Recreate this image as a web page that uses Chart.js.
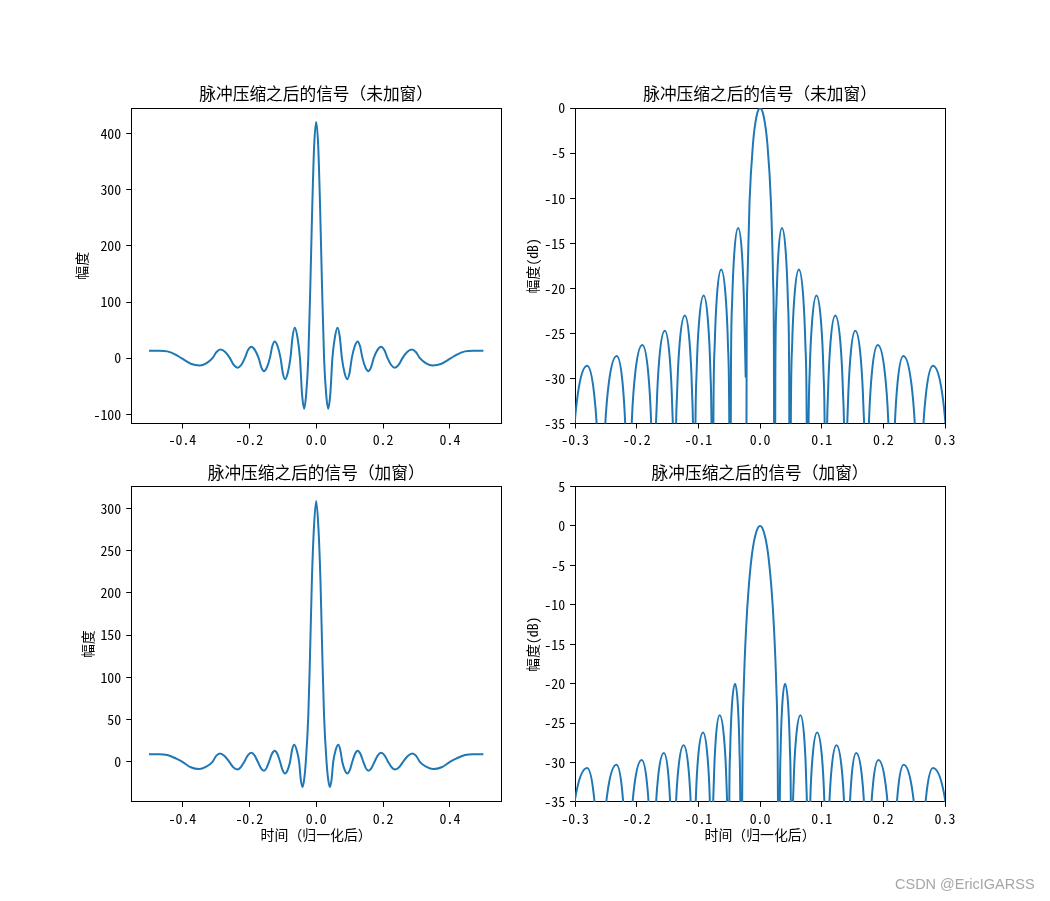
<!DOCTYPE html>
<html>
<head>
<meta charset="utf-8">
<script src="https://cdn.jsdelivr.net/npm/chart.js@4/dist/chart.umd.min.js"></script>
<style>
html, body { margin: 0; padding: 0; background: #fff; }
#wrap { position: relative; width: 1050px; height: 901px; overflow: hidden; }
#wrap canvas { position: absolute; left: 0; top: 0; }
#mark { position: absolute; left: 895px; top: 876px; font: 14.5px "Liberation Sans", Arial, sans-serif; color: #a6a6a6; white-space: nowrap; }
</style>
</head>
<body>
<div id="wrap">
  <canvas id="c1" width="1050" height="901"></canvas>
  <canvas id="c2" width="1050" height="901"></canvas>
  <canvas id="c3" width="1050" height="901"></canvas>
  <canvas id="c4" width="1050" height="901"></canvas>
  <div id="mark">CSDN @EricIGARSS</div>
</div>
<script>
// top-left: compressed pulse, no window (linear amplitude)
const timeA = [-0.5, -0.47, -0.445, -0.42, -0.403, -0.375, -0.348, -0.329, -0.31, -0.298, -0.286, -0.272, -0.258, -0.2465, -0.235, -0.2243, -0.2135,
  -0.2038, -0.194, -0.183, -0.172, -0.164, -0.156, -0.1473, -0.1385, -0.1313, -0.124, -0.1153, -0.1065, -0.0998, -0.093, -0.085, -0.077,
  -0.0705, -0.064, -0.0563, -0.0485, -0.0423, -0.036, -0.0298, -0.0236, -0.0176, -0.0118, -0.006,
  0,
  0.006, 0.0118, 0.0176, 0.0236, 0.0298, 0.036, 0.0423, 0.0485, 0.0563, 0.064, 0.0705,
  0.077, 0.085, 0.093, 0.0998, 0.1065, 0.1153, 0.124, 0.1313, 0.1385, 0.1473, 0.156, 0.164, 0.172, 0.183, 0.194, 0.2038,
  0.2135, 0.2243, 0.235, 0.2465, 0.258, 0.272, 0.286, 0.298, 0.31, 0.329, 0.348, 0.375, 0.403, 0.42, 0.445, 0.47, 0.5];
const ampA = [13, 13, 12, 6, 0, -10, -13, -9.2, 0, 11, 15.5, 11, 0, -12.2, -17.3, -12.2, 0,
  14.3, 20.2, 14.3, 0, -16.4, -23.2, -16.4, 0, 21.1, 29.8, 21.1, 0, -26.5, -37.5, -26.5, 0,
  38.2, 54, 38.2, 0, -63.6, -90, -63.6, 0, 126, 268, 379,
  421,
  379, 268, 126, 0, -63.6, -90, -63.6, 0, 38.2, 54, 38.2,
  0, -26.5, -37.5, -26.5, 0, 21.1, 29.8, 21.1, 0, -16.4, -23.2, -16.4, 0, 14.3, 20.2, 14.3,
  0, -12.2, -17.3, -12.2, 0, 11, 15.5, 11, 0, -9.2, -13, -10, 0, 6, 12, 13, 13];

// top-right: same signal in dB (null = sample at -inf)
const timeB = [-0.31, -0.3071, -0.3026, -0.2953, -0.2805, -0.2693, -0.2636, -0.2603,
  -0.258, -0.2555, -0.2516, -0.2453, -0.2325, -0.223, -0.2183, -0.2154,
  -0.2135, -0.2113, -0.2079, -0.2023, -0.191, -0.1815, -0.1768, -0.1739,
  -0.172, -0.1703, -0.1676, -0.1633, -0.1545, -0.1465, -0.1425, -0.1401,
  -0.1385, -0.1369, -0.1344, -0.1303, -0.122, -0.1143, -0.1104, -0.1081,
  -0.1065, -0.105, -0.1028, -0.099, -0.0915, -0.0843, -0.0806, -0.0785,
  -0.077, -0.0756, -0.0735, -0.07, -0.063, -0.0558, -0.0521, -0.05,
  -0.0485, -0.0472, -0.0453, -0.042, -0.0355, -0.0292, -0.026, -0.0233,
  -0.0228, -0.0223, -0.0217, -0.0205, -0.0171, -0.0114, -0.0057,
  0,
  0.0059, 0.0118, 0.0177, 0.0212, 0.0224,
  0.0236, 0.0248, 0.0266, 0.0296, 0.0355, 0.042, 0.0453, 0.0472,
  0.0485, 0.05, 0.0521, 0.0558, 0.063, 0.07, 0.0735, 0.0756,
  0.077, 0.0785, 0.0806, 0.0843, 0.0915, 0.099, 0.1028, 0.105,
  0.1065, 0.1081, 0.1104, 0.1143, 0.122, 0.1303, 0.1344, 0.1369,
  0.1385, 0.1401, 0.1425, 0.1465, 0.1545, 0.1633, 0.1676, 0.1703,
  0.172, 0.1739, 0.1768, 0.1815, 0.191, 0.2023, 0.2079, 0.2113,
  0.2135, 0.2154, 0.2183, 0.223, 0.2325, 0.2453, 0.2516, 0.2555,
  0.258, 0.2603, 0.2636, 0.2693, 0.2805, 0.2953, 0.3026, 0.3071, 0.31];
const dbA = [-60, -44.7, -36.9, -31.6, -28.6, -31.6, -36.9, -44.7,
  -60, -43.6, -35.8, -30.5, -27.5, -30.5, -35.8, -43.6,
  -60, -42.4, -34.6, -29.3, -26.3, -29.3, -34.6, -42.4,
  -60, -40.8, -33, -27.7, -24.7, -27.7, -33, -40.8,
  -60, -39.1, -31.3, -26, -23, -26, -31.3, -39.1,
  -60, -36.9, -29.1, -23.8, -20.8, -23.8, -29.1, -36.9,
  -60, -34, -26.2, -20.9, -17.9, -20.9, -26.2, -34,
  -60, -29.4, -21.6, -16.3, -13.3, -16.3, -21.6, -29.9,
  null, -45, -25.6, -19.2, -10.5, -3.9, -0.9,
  0,
  -0.9, -3.9, -10.5, -19.2, -25.6,
  -60, -29.4, -21.6, -16.3, -13.3, -16.3, -21.6, -29.4,
  -60, -34, -26.2, -20.9, -17.9, -20.9, -26.2, -34,
  -60, -36.9, -29.1, -23.8, -20.8, -23.8, -29.1, -36.9,
  -60, -39.1, -31.3, -26, -23, -26, -31.3, -39.1,
  -60, -40.8, -33, -27.7, -24.7, -27.7, -33, -40.8,
  -60, -42.4, -34.6, -29.3, -26.3, -29.3, -34.6, -42.4,
  -60, -43.6, -35.8, -30.5, -27.5, -30.5, -35.8, -43.6,
  -60, -44.7, -36.9, -31.6, -28.6, -31.6, -36.9, -44.7, -60];

// bottom-left: compressed pulse with window (linear amplitude)
const timeC = [-0.5, -0.47, -0.445, -0.42, -0.4, -0.375, -0.35, -0.33, -0.31, -0.299, -0.288, -0.274, -0.26, -0.248, -0.236, -0.2255, -0.215,
  -0.2045, -0.194, -0.1843, -0.1745, -0.1653, -0.156, -0.1485, -0.141, -0.1325, -0.124, -0.116, -0.108, -0.1005, -0.093, -0.0855, -0.078,
  -0.072, -0.066, -0.0585, -0.051, -0.046, -0.041, -0.036, -0.031, -0.0235, -0.0183, -0.0128, -0.007,
  0,
  0.007, 0.0128, 0.0183, 0.0235, 0.031, 0.036, 0.041, 0.046, 0.051, 0.0585, 0.066, 0.072,
  0.078, 0.0855, 0.093, 0.1005, 0.108, 0.116, 0.124, 0.1325, 0.141, 0.1485, 0.156, 0.1653, 0.1745, 0.1843, 0.194, 0.2045,
  0.215, 0.2255, 0.236, 0.248, 0.26, 0.274, 0.288, 0.299, 0.31, 0.33, 0.35, 0.375, 0.4, 0.42, 0.445, 0.47, 0.5];
const ampB = [9, 9, 8, 4, 0, -6.5, -8.6, -6.1, 0, 7, 9.9, 7, 0, -6.4, -9, -6.4, 0,
  7.6, 10.7, 7.6, 0, -7.5, -10.6, -7.5, 0, 9.2, 13, 9.2, 0, -9.8, -13.8, -9.8, 0,
  14.3, 20.2, 14.3, 0, -21.2, -30, -21.2, 0, 55, 128, 215, 275,
  309,
  275, 215, 128, 55, 0, -21.2, -30, -21.2, 0, 14.3, 20.2, 14.3,
  0, -9.8, -13.8, -9.8, 0, 9.2, 13, 9.2, 0, -7.5, -10.6, -7.5, 0, 7.6, 10.7, 7.6,
  0, -6.4, -9, -6.4, 0, 7, 9.9, 7, 0, -6.1, -8.6, -6.5, 0, 4, 8, 9, 9];

// bottom-right: windowed signal in dB
const timeD = [-0.315, -0.3115, -0.3064, -0.2978, -0.2805, -0.2703, -0.2651, -0.2621,
  -0.26, -0.2573, -0.2533, -0.2465, -0.233, -0.224, -0.2195, -0.2168,
  -0.215, -0.2127, -0.2093, -0.2035, -0.192, -0.1833, -0.1789, -0.1763,
  -0.1745, -0.1727, -0.1699, -0.1653, -0.156, -0.1485, -0.1448, -0.1425,
  -0.141, -0.1393, -0.1368, -0.1325, -0.124, -0.116, -0.112, -0.1096,
  -0.108, -0.1065, -0.1041, -0.1003, -0.0925, -0.0853, -0.0816, -0.0795,
  -0.078, -0.0768, -0.0749, -0.0718, -0.0655, -0.0583, -0.0546, -0.0525,
  -0.051, -0.05, -0.0484, -0.0458, -0.0405, -0.0358, -0.0334, -0.032,
  -0.031, -0.0285, -0.0264, -0.0225, -0.0183, -0.0128, -0.0065,
  0,
  0.0065, 0.0128, 0.0183, 0.0225, 0.0264, 0.0285,
  0.031, 0.032, 0.0334, 0.0358, 0.0405, 0.0458, 0.0484, 0.05,
  0.051, 0.0525, 0.0546, 0.0583, 0.0655, 0.0718, 0.0749, 0.0768,
  0.078, 0.0795, 0.0816, 0.0853, 0.0925, 0.1003, 0.1041, 0.1065,
  0.108, 0.1096, 0.112, 0.116, 0.124, 0.1325, 0.1368, 0.1393,
  0.141, 0.1425, 0.1448, 0.1485, 0.156, 0.1653, 0.1699, 0.1727,
  0.1745, 0.1763, 0.1789, 0.1833, 0.192, 0.2035, 0.2093, 0.2127,
  0.215, 0.2168, 0.2195, 0.224, 0.233, 0.2465, 0.2533, 0.2573,
  0.26, 0.2621, 0.2651, 0.2703, 0.2805, 0.2978, 0.3064, 0.3115, 0.315];
const dbB = [-60, -46.8, -39, -33.7, -30.7, -33.7, -39, -46.8,
  -60, -46.4, -38.6, -33.3, -30.3, -33.3, -38.6, -46.4,
  -60, -45.8, -38, -32.7, -29.7, -32.7, -38, -45.8,
  -60, -44.9, -37.1, -31.8, -28.8, -31.8, -37.1, -44.9,
  -60, -43.9, -36.1, -30.8, -27.8, -30.8, -36.1, -43.9,
  -60, -42.3, -34.5, -29.2, -26.2, -29.2, -34.5, -42.3,
  -60, -40.1, -32.3, -27, -24, -27, -32.3, -40.1,
  -60, -36.1, -28.3, -23, -20, -23, -28.3, -36.1,
  -60, -28, -20.4, -12.8, -7.7, -3.4, -0.85,
  0,
  -0.85, -3.4, -7.7, -12.8, -20.4, -28,
  -60, -36.1, -28.3, -23, -20, -23, -28.3, -36.1,
  -60, -40.1, -32.3, -27, -24, -27, -32.3, -40.1,
  -60, -42.3, -34.5, -29.2, -26.2, -29.2, -34.5, -42.3,
  -60, -43.9, -36.1, -30.8, -27.8, -30.8, -36.1, -43.9,
  -60, -44.9, -37.1, -31.8, -28.8, -31.8, -37.1, -44.9,
  -60, -45.8, -38, -32.7, -29.7, -32.7, -38, -45.8,
  -60, -46.4, -38.6, -33.3, -30.3, -33.3, -38.6, -46.4,
  -60, -46.8, -39, -33.7, -30.7, -33.7, -39, -46.8, -60];

const titleNoWin = '脉冲压缩之后的信号（未加窗）';
const titleWin = '脉冲压缩之后的信号（加窗）';
const labelAmp = '幅度';
const labelDb = '幅度(dB)';
const labelTime = '时间（归一化后）';

// subplot boxes in page pixels
const colLeft = [131.25, 501.1];
const colRight = [575.1, 945];
const rowTop = [108.1, 423.5];
const rowBottom = [486.5, 801.9];

Chart.defaults.color = '#000';
Chart.defaults.font.family = '"Noto Sans Mono CJK SC", "Noto Sans CJK SC", sans-serif';
Chart.defaults.font.size = 13.9;

function toPoints(xs, ys) {
  return xs.map((x, i) => ({ x: x, y: ys[i] }));
}

function spine() {
  return { display: true, color: '#000', width: 1 };
}

function makePanel(id, o) {
  const xH = o.xLabel ? 41.4 : 30;
  return new Chart(document.getElementById(id), {
    type: 'line',
    data: {
      datasets: [{
        data: toPoints(o.xs, o.ys),
        borderColor: '#1f77b4',
        borderWidth: 2,
        pointRadius: 0,
        fill: false,
        spanGaps: false,
        cubicInterpolationMode: 'monotone'
      }]
    },
    options: {
      responsive: false,
      animation: false,
      events: [],
      layout: {
        padding: { left: o.padLeft, right: 1050 - o.col[1], top: o.row[0] - 24, bottom: 901 - o.row[1] - xH }
      },
      plugins: {
        legend: { display: false },
        tooltip: { enabled: false },
        title: {
          display: true, text: o.title, fullSize: false, color: '#000',
          font: { size: 16.7, weight: 'normal' }, padding: { top: 0, bottom: 4 }
        }
      },
      scales: {
        x: {
          type: 'linear', position: 'bottom', min: o.xMin, max: o.xMax,
          grid: { display: true, drawOnChartArea: false, drawTicks: true, tickLength: 5, color: '#000', lineWidth: 1 },
          border: spine(),
          ticks: { stepSize: o.xStep, includeBounds: false, padding: 3, maxRotation: 0, autoSkip: false,
                   callback: v => v.toFixed(1) },
          title: { display: !!o.xLabel, text: o.xLabel || '', padding: 0 },
          afterFit: s => { s.height = xH; }
        },
        y: {
          type: 'linear', position: 'left', min: o.yMin, max: o.yMax,
          grid: { display: true, drawOnChartArea: false, drawTicks: true, tickLength: 5, color: '#000', lineWidth: 1 },
          border: spine(),
          ticks: { stepSize: o.yStep, includeBounds: false, padding: 5, autoSkip: false,
                   callback: v => String(v) },
          title: { display: true, text: o.yLabel, padding: 0 },
          afterFit: s => { s.width = o.col[0] - o.padLeft; }
        },
        xTop: {
          type: 'linear', position: 'top', min: o.xMin, max: o.xMax,
          grid: { display: false }, ticks: { display: false }, border: spine(),
          afterFit: s => { s.height = 0; }
        },
        yRight: {
          type: 'linear', position: 'right', min: o.yMin, max: o.yMax,
          grid: { display: false }, ticks: { display: false }, border: spine(),
          afterFit: s => { s.width = 0; }
        }
      }
    }
  });
}

makePanel('c1', {
  xs: timeA, ys: ampA, col: colLeft, row: rowTop, padLeft: 73.4,
  xMin: -0.553, xMax: 0.553, xStep: 0.2, yMin: -116.5, yMax: 445.5, yStep: 100,
  title: titleNoWin, yLabel: labelAmp
});
makePanel('c2', {
  xs: timeB, ys: dbA, col: colRight, row: rowTop, padLeft: 524.3,
  xMin: -0.3, xMax: 0.3, xStep: 0.1, yMin: -35, yMax: 0, yStep: 5,
  title: titleNoWin, yLabel: labelDb
});
makePanel('c3', {
  xs: timeC, ys: ampB, col: colLeft, row: rowBottom, padLeft: 79,
  xMin: -0.553, xMax: 0.553, xStep: 0.2, yMin: -47.5, yMax: 326, yStep: 50,
  title: titleWin, yLabel: labelAmp, xLabel: labelTime
});
makePanel('c4', {
  xs: timeD, ys: dbB, col: colRight, row: rowBottom, padLeft: 524.3,
  xMin: -0.3, xMax: 0.3, xStep: 0.1, yMin: -35, yMax: 5, yStep: 5,
  title: titleWin, yLabel: labelDb, xLabel: labelTime
});
</script>
</body>
</html>
